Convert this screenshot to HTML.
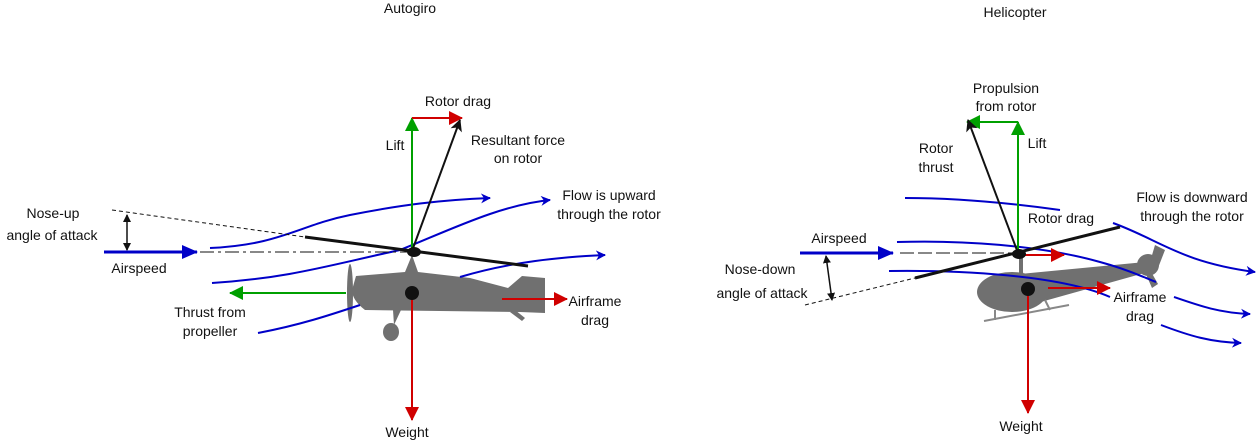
<!DOCTYPE html>
<html><head><meta charset="utf-8"><style>
body{margin:0;background:#fff}
svg{display:block;font-family:"Liberation Sans",Arial,sans-serif;font-size:14px;fill:#111}
</style></head><body>
<svg width="1258" height="442" viewBox="0 0 1258 442">
<defs>
<marker id="ab" markerWidth="10" markerHeight="10" refX="9" refY="5" orient="auto" markerUnits="userSpaceOnUse"><path d="M0,0 L10,5 L0,10 L3,5z" fill="#0000c8"/></marker>
<marker id="abf" markerWidth="16" markerHeight="14" refX="15" refY="7" orient="auto" markerUnits="userSpaceOnUse"><path d="M0,0 L16,7 L0,14z" fill="#0000c8"/></marker>
<marker id="ag" markerWidth="14" markerHeight="14" refX="13" refY="7" orient="auto" markerUnits="userSpaceOnUse"><path d="M0,0 L14,7 L0,14z" fill="#00a000"/></marker>
<marker id="ar" markerWidth="14" markerHeight="14" refX="13" refY="7" orient="auto" markerUnits="userSpaceOnUse"><path d="M0,0 L14,7 L0,14z" fill="#d00000"/></marker>
<marker id="ak" markerWidth="12" markerHeight="12" refX="11" refY="6" orient="auto" markerUnits="userSpaceOnUse"><path d="M0,0 L12,6 L0,12 L3,6z" fill="#111"/></marker>
<marker id="ak2" markerWidth="8" markerHeight="8" refX="7" refY="4" orient="auto" markerUnits="userSpaceOnUse"><path d="M0,0 L8,4 L0,8z" fill="#111"/></marker>
<marker id="ak2s" markerWidth="8" markerHeight="8" refX="1" refY="4" orient="auto" markerUnits="userSpaceOnUse"><path d="M8,0 L0,4 L8,8z" fill="#111"/></marker>
</defs>

<!-- AUTOGIRO -->
<g>
<text x="410" y="13" text-anchor="middle">Autogiro</text>
<g fill="#707070">
<path d="M356,276 L405,272 L412,255 L418,272 L470,278 L508,288 L522,276 L545,278 L545,313 L520,312 L365,310 Q352,300 352,290z"/>
<path d="M515,310 L525,318 L522,321 L510,312z"/>
<path d="M393,310 L401,310 L394,325 z"/>
<ellipse cx="391" cy="332" rx="8" ry="9"/>
<ellipse cx="350" cy="293" rx="3" ry="29"/>
</g>
<path d="M210,248 C280,245 300,225 350,215 C400,205 440,200 490,198" stroke="#0000c8" stroke-width="2" fill="none" marker-end="url(#ab)"/>
<path d="M212,283 C290,278 330,265 400,250 C450,230 500,205 550,200" stroke="#0000c8" stroke-width="2" fill="none" marker-end="url(#ab)"/>
<path d="M258,333 C300,325 330,315 360,305 M460,277 C510,262 560,257 605,255" stroke="#0000c8" stroke-width="2" fill="none" marker-end="url(#ab)"/>
<line x1="112" y1="210" x2="305" y2="237" stroke="#111" stroke-width="1" stroke-dasharray="4,3"/>
<line x1="305" y1="237" x2="528" y2="266" stroke="#111" stroke-width="3"/>
<line x1="200" y1="252" x2="410" y2="252" stroke="#111" stroke-width="1" stroke-dasharray="14,4,3,4"/>
<line x1="104" y1="252" x2="197" y2="252" stroke="#0000c8" stroke-width="3" marker-end="url(#abf)"/>
<line x1="127" y1="215" x2="127" y2="250" stroke="#111" stroke-width="1.5" marker-end="url(#ak2)" marker-start="url(#ak2s)"/>
<line x1="412" y1="251" x2="412" y2="118" stroke="#00a000" stroke-width="2" marker-end="url(#ag)"/>
<line x1="412" y1="118" x2="462" y2="118" stroke="#d00000" stroke-width="2" marker-end="url(#ar)"/>
<line x1="412" y1="251" x2="460" y2="120" stroke="#111" stroke-width="2" marker-end="url(#ak)"/>
<ellipse cx="414" cy="252" rx="7" ry="5" fill="#111"/>
<line x1="346" y1="293" x2="230" y2="293" stroke="#00a000" stroke-width="2" marker-end="url(#ag)"/>
<line x1="502" y1="299" x2="567" y2="299" stroke="#d00000" stroke-width="2" marker-end="url(#ar)"/>
<line x1="412" y1="295" x2="412" y2="420" stroke="#d00000" stroke-width="2" marker-end="url(#ar)"/>
<ellipse cx="412" cy="293" rx="7" ry="7" fill="#111"/>
<text x="458" y="106" text-anchor="middle">Rotor drag</text>
<text x="395" y="150" text-anchor="middle">Lift</text>
<text x="518" y="145" text-anchor="middle">Resultant force</text>
<text x="518" y="163" text-anchor="middle">on rotor</text>
<text x="609" y="200" text-anchor="middle">Flow is upward</text>
<text x="609" y="219" text-anchor="middle">through the rotor</text>
<text x="53" y="218" text-anchor="middle">Nose-up</text>
<text x="52" y="240" text-anchor="middle">angle of attack</text>
<text x="139" y="273" text-anchor="middle">Airspeed</text>
<text x="210" y="317" text-anchor="middle">Thrust from</text>
<text x="210" y="336" text-anchor="middle">propeller</text>
<text x="595" y="306" text-anchor="middle">Airframe</text>
<text x="595" y="325" text-anchor="middle">drag</text>
<text x="407" y="437" text-anchor="middle">Weight</text>
</g>

<!-- HELICOPTER -->
<g>
<text x="1015" y="17" text-anchor="middle">Helicopter</text>
<g fill="#707070">
<ellipse cx="1012" cy="292" rx="35" ry="20"/>
<path d="M1010,275 L1145,262 L1148,272 L1030,305z"/>
<circle cx="1148" cy="265" r="11"/>
<path d="M1155,245 L1165,250 L1158,268 L1150,262z"/>
<path d="M1150,270 L1158,284 L1152,288 L1145,272z"/>
<rect x="1019" y="255" width="4" height="18"/>
</g>
<path d="M984,321 L1069,305" stroke="#888" stroke-width="2" fill="none"/>
<path d="M995,310 L995,320 M1045,300 L1050,310" stroke="#888" stroke-width="2" fill="none"/>
<path d="M905,198 C960,198 1010,203 1060,210" stroke="#0000c8" stroke-width="2" fill="none"/>
<path d="M1113,223 C1160,240 1180,262 1255,272" stroke="#0000c8" stroke-width="2" fill="none" marker-end="url(#ab)"/>
<path d="M897,242 C960,240 1040,245 1100,262 C1130,270 1145,278 1156,282" stroke="#0000c8" stroke-width="2" fill="none"/>
<path d="M1174,297 C1200,306 1220,313 1250,314" stroke="#0000c8" stroke-width="2" fill="none" marker-end="url(#ab)"/>
<path d="M889,271 C960,270 1060,275 1110,297" stroke="#0000c8" stroke-width="2" fill="none"/>
<path d="M1161,325 C1190,336 1210,342 1241,343" stroke="#0000c8" stroke-width="2" fill="none" marker-end="url(#ab)"/>
<line x1="805" y1="305" x2="915" y2="278" stroke="#111" stroke-width="1" stroke-dasharray="4,3"/>
<line x1="915" y1="278" x2="1120" y2="227" stroke="#111" stroke-width="3"/>
<line x1="900" y1="253" x2="1015" y2="253" stroke="#111" stroke-width="1" stroke-dasharray="14,4"/>
<line x1="800" y1="253" x2="893" y2="253" stroke="#0000c8" stroke-width="3" marker-end="url(#abf)"/>
<line x1="826" y1="256" x2="832" y2="300" stroke="#111" stroke-width="1.5" marker-end="url(#ak2)" marker-start="url(#ak2s)"/>
<line x1="1018" y1="253" x2="1018" y2="122" stroke="#00a000" stroke-width="2" marker-end="url(#ag)"/>
<line x1="1018" y1="122" x2="967" y2="122" stroke="#00a000" stroke-width="2" marker-end="url(#ag)"/>
<line x1="1018" y1="253" x2="968" y2="120" stroke="#111" stroke-width="2" marker-end="url(#ak)"/>
<line x1="1018" y1="255" x2="1064" y2="255" stroke="#d00000" stroke-width="2" marker-end="url(#ar)"/>
<ellipse cx="1019" cy="254" rx="7" ry="5" fill="#111"/>
<line x1="1048" y1="288" x2="1110" y2="288" stroke="#d00000" stroke-width="2" marker-end="url(#ar)"/>
<line x1="1028" y1="292" x2="1028" y2="413" stroke="#d00000" stroke-width="2" marker-end="url(#ar)"/>
<circle cx="1028" cy="289" r="7" fill="#111"/>
<text x="1006" y="93" text-anchor="middle">Propulsion</text>
<text x="1006" y="111" text-anchor="middle">from rotor</text>
<text x="1037" y="148" text-anchor="middle">Lift</text>
<text x="936" y="153" text-anchor="middle">Rotor</text>
<text x="936" y="172" text-anchor="middle">thrust</text>
<text x="1061" y="223" text-anchor="middle">Rotor drag</text>
<text x="1192" y="202" text-anchor="middle">Flow is downward</text>
<text x="1192" y="221" text-anchor="middle">through the rotor</text>
<text x="839" y="243" text-anchor="middle">Airspeed</text>
<text x="760" y="274" text-anchor="middle">Nose-down</text>
<text x="762" y="298" text-anchor="middle">angle of attack</text>
<text x="1140" y="302" text-anchor="middle">Airframe</text>
<text x="1140" y="321" text-anchor="middle">drag</text>
<text x="1021" y="431" text-anchor="middle">Weight</text>
</g>
</svg>
</body></html>
